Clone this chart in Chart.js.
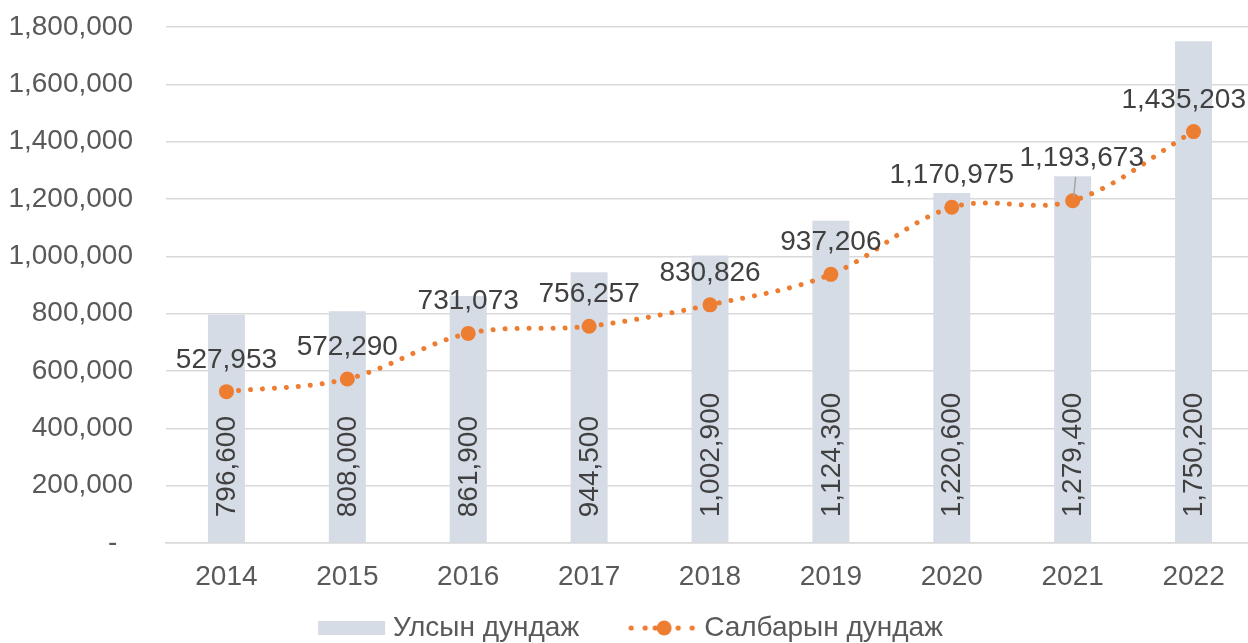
<!DOCTYPE html>
<html>
<head>
<meta charset="utf-8">
<script src="https://cdn.jsdelivr.net/npm/chart.js@4/dist/chart.umd.min.js"></script>
<style>
    html, body { margin: 0; padding: 0; background: #fff; overflow: hidden; }
    #wrap { width: 1248px; height: 643px; overflow: hidden; }
    #chart { display: block; margin-left: -33px; }
</style>
</head>
<body>
<div id="wrap"><canvas id="chart" width="1287" height="643"></canvas></div>
<script>
var years = ['2014', '2015', '2016', '2017', '2018', '2019', '2020', '2021', '2022'];
var nationalAvg = [796600, 808000, 861900, 944500, 1002900, 1124300, 1220600, 1279400, 1750200];
var sectorAvg = [527953, 572290, 731073, 756257, 830826, 937206, 1170975, 1193673, 1435203];
var seriesNames = ['Улсын дундаж', 'Салбарын дундаж'];

var FONT = "'Liberation Sans', Arial, sans-serif";
var BAR_COLOR = '#D6DCE5';
var LINE_COLOR = '#ED7D31';
var GRID_COLOR = '#D9D9D9';
var SHIFT = 33;                 // canvas starts 33px left of the page
var VISIBLE_W = 1248 + SHIFT;   // right edge of the page in canvas coords

function fmt(v) {
    return v.toLocaleString('en-US');
}

// legend icons: image is wider than the legend box so it can sit close to the text
var ICON_W = 101;
var ICON_IMG_W = ICON_W + 28;

function makeBarIcon() {
    var c = document.createElement('canvas');
    c.width = ICON_IMG_W;
    c.height = 14;
    var ctx = c.getContext('2d');
    ctx.fillStyle = BAR_COLOR;
    ctx.fillRect(ICON_IMG_W - 8 - 67, 0, 67, 14);
    return c;
}

function makeLineIcon() {
    var c = document.createElement('canvas');
    c.width = ICON_IMG_W;
    c.height = 16;
    var ctx = c.getContext('2d');
    var mid = ICON_IMG_W - 5 - 35;
    ctx.fillStyle = LINE_COLOR;
    [-33, -19, -9, 14, 28].forEach(function (d) {
        ctx.beginPath();
        ctx.arc(mid + d, 8, 2.6, 0, Math.PI * 2);
        ctx.fill();
    });
    ctx.beginPath();
    ctx.arc(mid, 8, 7.5, 0, Math.PI * 2);
    ctx.fill();
    return c;
}

var icons = [makeBarIcon(), makeLineIcon()];

// value labels: rotated inside bars, above line points
var valueLabels = {
    id: 'valueLabels',
    afterDatasetsDraw: function (chart) {
        var ctx = chart.ctx;
        ctx.save();
        ctx.font = '28px ' + FONT;
        ctx.fillStyle = '#404040';

        chart.getDatasetMeta(0).data.forEach(function (bar, i) {
            ctx.save();
            ctx.translate(bar.x, bar.base - 25);
            ctx.rotate(-Math.PI / 2);
            ctx.textAlign = 'left';
            ctx.textBaseline = 'middle';
            ctx.fillText(fmt(nationalAvg[i]), 0, 1);
            ctx.restore();
        });

        chart.getDatasetMeta(1).data.forEach(function (pt, i) {
            var txt = fmt(sectorAvg[i]);
            var w = ctx.measureText(txt).width;
            var x = pt.x;
            var y = pt.y - 24;
            if (i === 7) {
                // label pushed up with a leader line
                x += 9;
                y -= 11;
                ctx.save();
                ctx.strokeStyle = '#A6A6A6';
                ctx.lineWidth = 1.5;
                ctx.beginPath();
                ctx.moveTo(pt.x + 3, pt.y - 24);
                ctx.lineTo(pt.x + 1, pt.y - 4);
                ctx.stroke();
                ctx.restore();
            }
            if (x + w / 2 > VISIBLE_W - 2) {
                x = VISIBLE_W - 2 - w / 2;
            }
            ctx.textAlign = 'center';
            ctx.textBaseline = 'alphabetic';
            ctx.fillText(txt, x, y);
        });
        ctx.restore();
    }
};

new Chart(document.getElementById('chart'), {
    type: 'bar',
    data: {
        labels: years,
        datasets: [
            {
                label: seriesNames[0],
                data: nationalAvg,
                backgroundColor: BAR_COLOR,
                borderWidth: 0,
                categoryPercentage: 1,
                barPercentage: 0.306,
                order: 2
            },
            {
                type: 'line',
                label: seriesNames[1],
                data: sectorAvg,
                borderColor: LINE_COLOR,
                backgroundColor: LINE_COLOR,
                borderWidth: 5,
                borderDash: [0.01, 12],
                borderCapStyle: 'round',
                tension: 0.35,
                fill: false,
                pointRadius: 7.5,
                pointBorderWidth: 0,
                pointBackgroundColor: LINE_COLOR,
                order: 1
            }
        ]
    },
    options: {
        responsive: false,
        animation: false,
        layout: { autoPadding: false, padding: { top: 27, right: 0, bottom: 0, left: 0 } },
        plugins: {
            tooltip: { enabled: false },
            legend: {
                position: 'bottom',
                maxHeight: 39,
                labels: {
                    usePointStyle: true,
                    pointStyleWidth: ICON_W,
                    padding: 10,
                    color: '#595959',
                    font: { family: FONT, size: 28 },
                    generateLabels: function (chart) {
                        return chart.data.datasets.map(function (ds, i) {
                            return {
                                text: ds.label,
                                pointStyle: icons[i],
                                fillStyle: ds.backgroundColor,
                                strokeStyle: ds.backgroundColor,
                                lineWidth: 0,
                                hidden: false,
                                datasetIndex: i,
                                fontColor: '#595959'
                            };
                        });
                    }
                }
            }
        },
        scales: {
            x: {
                grid: { display: false, drawTicks: false },
                border: { display: true, color: GRID_COLOR, width: 1.5 },
                ticks: {
                    color: '#595959',
                    padding: 17,
                    font: { family: FONT, size: 28 }
                },
                afterFit: function (scale) {
                    scale.height = 61;
                }
            },
            y: {
                min: 0,
                max: 1800000,
                grid: { color: GRID_COLOR, lineWidth: 1.5, drawTicks: false },
                border: { display: false },
                ticks: {
                    stepSize: 200000,
                    color: '#595959',
                    padding: 33,
                    font: { family: FONT, size: 28 },
                    callback: function (v) {
                        return v === 0 ? '-  ' : fmt(v);
                    }
                },
                afterFit: function (scale) {
                    scale.width = 166 + SHIFT;
                    scale.paddingTop = 0;
                }
            }
        }
    },
    plugins: [valueLabels]
});
</script>
</body>
</html>
